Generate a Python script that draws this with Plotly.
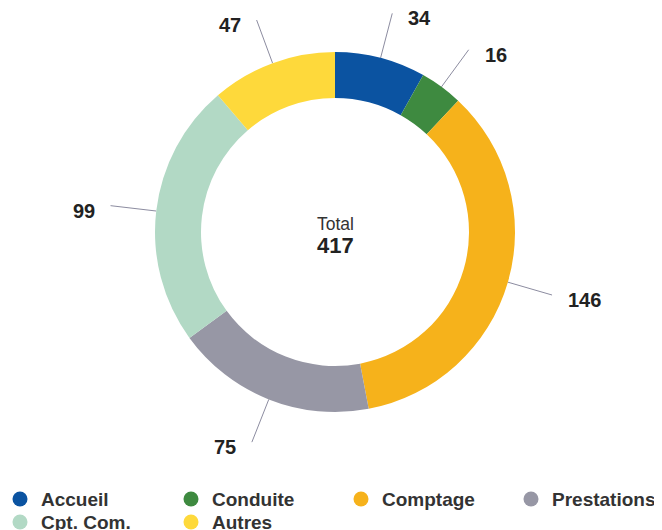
import math
import plotly.graph_objects as go

categories = ["Accueil", "Conduite", "Comptage", "Prestations", "Cpt. Com.", "Autres"]
values = [34, 16, 146, 75, 99, 47]
colors = ["#0b53a1", "#3e8a40", "#f6b21b", "#9797a5", "#b2d9c5", "#fed93b"]
center_title = "Total"

W, H = 662, 530
OFF = 8  # page body margin: figure is drawn 8px right/down in the window
CX, CY = 335, 232          # screen pixel coordinates
R_OUT, R_IN = 180, 134
R_END = 226
FONT = "Liberation Sans, Arial, sans-serif"

# legend layout (screen pixel positions of each entry's marker)
LEG_X = [20, 191, 361, 531]
LEG_Y = [499, 522]

fig = go.Figure()

fig.add_trace(go.Pie(
    labels=categories, values=values, sort=False, direction="clockwise",
    rotation=0, hole=R_IN / R_OUT, textinfo="none", hoverinfo="label+value",
    marker=dict(colors=colors, line=dict(width=0)),
    domain=dict(x=[(CX - OFF - R_OUT) / W, (CX - OFF + R_OUT) / W],
                y=[(H - (CY - OFF) - R_OUT) / H, (H - (CY - OFF) + R_OUT) / H]),
    showlegend=False,
))

total = sum(values)
cum = 0
annotations = []
for cat, v in zip(categories, values):
    mid = (cum + v / 2) / total * 2 * math.pi
    cum += v
    sx, sy = CX + R_OUT * math.sin(mid), CY - R_OUT * math.cos(mid)
    ex, ey = CX + R_END * math.sin(mid), CY - R_END * math.cos(mid)
    fig.add_trace(go.Scatter(x=[sx, ex], y=[sy, ey], mode="lines",
                             line=dict(color="#8c8ca0", width=1),
                             showlegend=False, hoverinfo="skip"))
    right = math.sin(mid) >= 0
    annotations.append(dict(
        x=ex + (14 if right else -14), y=ey + 5, xref="x", yref="y",
        text="<b>%d</b>" % v, showarrow=False,
        xanchor="left" if right else "right", yanchor="middle",
        font=dict(family=FONT, size=20, color="#222222")))

# manual legend with circular markers
for i, (cat, c) in enumerate(zip(categories, colors)):
    lx = LEG_X[i % 4]
    ly = LEG_Y[i // 4]
    fig.add_trace(go.Scatter(x=[lx], y=[ly], mode="markers",
                             marker=dict(symbol="circle", size=15, color=c),
                             showlegend=False, hoverinfo="skip"))
    annotations.append(dict(x=lx + 19, y=ly, xref="x", yref="y", text="<b>%s</b>" % cat,
                            showarrow=False, xanchor="left", yanchor="middle",
                            font=dict(family=FONT, size=19, color="#333333")))

annotations.append(dict(x=CX, y=224, xref="x", yref="y", text=center_title,
                        showarrow=False, yanchor="middle",
                        font=dict(family=FONT, size=17.5, color="#333333")))
annotations.append(dict(x=CX, y=245, xref="x", yref="y", text="<b>%d</b>" % total,
                        showarrow=False, yanchor="middle",
                        font=dict(family=FONT, size=22, color="#222222")))

fig.update_layout(
    width=W, height=H,
    margin=dict(l=0, r=0, t=0, b=0, autoexpand=False),
    paper_bgcolor="white", plot_bgcolor="white",
    showlegend=False,
    xaxis=dict(range=[OFF, W + OFF], visible=False, fixedrange=True),
    yaxis=dict(range=[H + OFF, OFF], visible=False, fixedrange=True),
    annotations=annotations,
)

fig.write_html("out.html")
